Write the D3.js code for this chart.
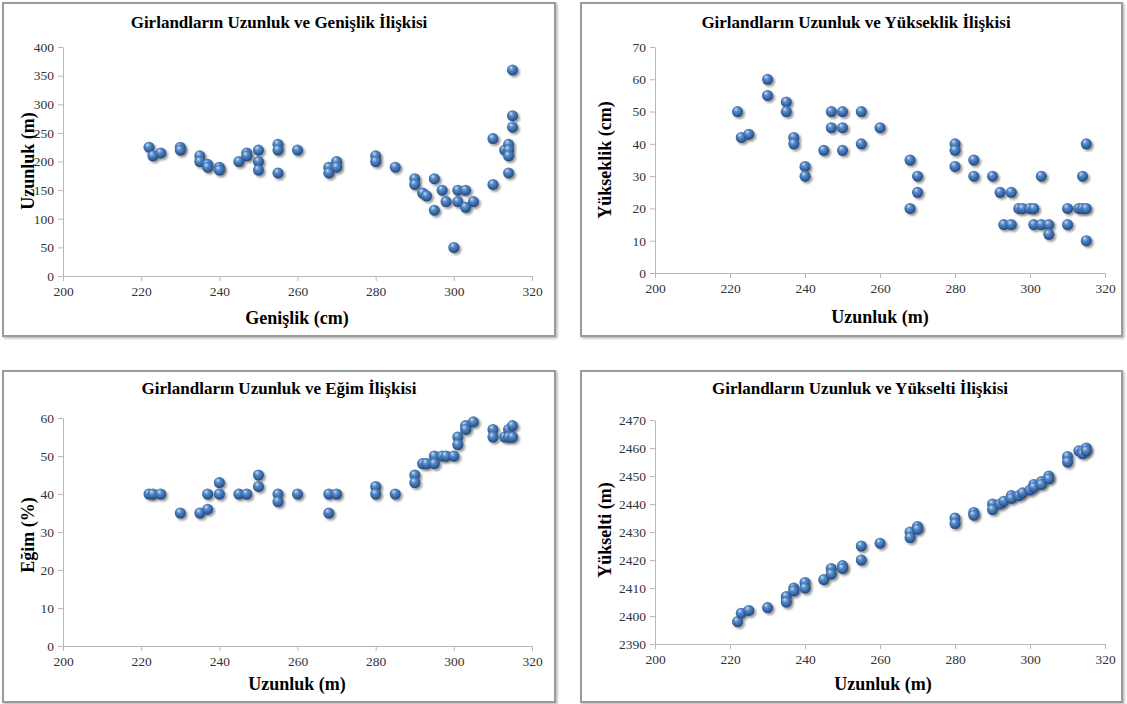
<!DOCTYPE html>
<html><head><meta charset="utf-8">
<script src="https://cdn.jsdelivr.net/npm/d3@7"></script>
<style>
body{margin:0;background:#fff;}
svg{display:block;}
svg text{font-family:"Liberation Serif","Times New Roman",Tinos,"DejaVu Serif",serif !important;}
</style></head>
<body>
<svg id="c" width="1127" height="704"></svg>
<script>
// ---- Data ----
const xTicks = [200,220,240,260,280,300,320];

const genislikX = [222,223,225,230,230,235,235,237,237,240,240,245,247,247,250,250,250,255,255,255,260,268,268,270,270,280,280,285,290,290,292,293,295,295,297,298,300,301,301,303,303,305,310,310,313,314,314,314,314,315,315,315];
const genislikUzunlukY = [225,210,215,225,220,210,200,195,190,190,185,200,215,210,220,200,185,230,220,180,220,190,180,200,190,210,200,190,170,160,145,140,170,115,150,130,50,150,130,150,120,130,240,160,220,230,220,210,180,360,280,260];

const yukseklikX = [222,223,225,230,230,235,235,237,237,240,240,245,247,247,250,250,250,255,255,260,268,268,270,270,280,280,280,285,285,290,292,293,295,295,297,298,300,301,301,303,303,305,305,310,310,313,314,314,315,315,315];
const yukseklikY = [50,42,43,60,55,53,50,42,40,33,30,38,50,45,50,45,38,50,40,45,35,20,30,25,40,38,33,35,30,30,25,15,25,15,20,20,20,20,15,30,15,15,12,20,15,20,30,20,40,20,10];

const egimX = [222,223,225,230,235,237,237,240,240,245,247,250,250,255,255,260,268,268,270,280,280,285,290,290,292,293,295,295,297,298,300,301,301,303,303,305,310,310,313,314,314,315,315];
const egimY = [40,40,40,35,35,40,36,43,40,40,40,45,42,40,38,40,40,35,40,42,40,40,45,43,48,48,50,48,50,50,50,55,53,58,57,59,57,55,55,57,55,58,55];

const yukseltiX = [222,223,225,230,235,235,237,237,240,240,245,247,247,250,250,255,255,260,268,268,270,270,280,280,285,285,290,290,292,293,295,295,297,298,300,301,301,303,303,305,305,310,310,313,314,314,315,315];
const yukseltiY = [2398,2401,2402,2403,2407,2405,2410,2409,2412,2410,2413,2417,2415,2418,2417,2425,2420,2426,2430,2428,2432,2431,2435,2433,2437,2436,2440,2438,2440,2441,2443,2442,2443,2444,2445,2447,2446,2448,2447,2450,2449,2457,2455,2459,2459,2458,2460,2459];

const titles = ["Girlandların  Uzunluk ve Genişlik İlişkisi","Girlandların  Uzunluk ve Yükseklik İlişkisi","Girlandların  Uzunluk ve Eğim İlişkisi","Girlandların  Uzunluk ve Yükselti İlişkisi"];
const xTitles = ["Genişlik (cm)","Uzunluk (m)","Uzunluk (m)","Uzunluk (m)"];
const yTitles = ["Uzunluk (m)","Yükseklik (cm)","Eğim (%)","Yükselti (m)"];
const yTicks0 = [0,50,100,150,200,250,300,350,400];
const yTicks1 = [0,10,20,30,40,50,60,70];
const yTicks2 = [0,10,20,30,40,50,60];
const yTicks3 = [2390,2400,2410,2420,2430,2440,2450,2460,2470];

// ---- Layout ----
const panels = [
  {frame:[3,3,552,333], plot:[63,532,47,276], xs:genislikX, ys:genislikUzunlukY, yt:yTicks0, title:[279,24], xl:[297,324], yl:[30,161]},
  {frame:[581,3,541,333], plot:[655,1105,47,273], xs:yukseklikX, ys:yukseklikY, yt:yTicks1, title:[856,24], xl:[880,323], yl:[607,160]},
  {frame:[3,371,552,331], plot:[63,532,418,646], xs:egimX, ys:egimY, yt:yTicks2, title:[279,390], xl:[297,690], yl:[30,535]},
  {frame:[581,371,541,331], plot:[655,1105,420,644], xs:yukseltiX, ys:yukseltiY, yt:yTicks3, title:[860,390], xl:[883,690], yl:[607,530]}
];

const FONT = "'Liberation Serif','Times New Roman',Tinos,'DejaVu Serif',serif";
const svg = d3.select("#c");
const defs = svg.append("defs");
const grad = defs.append("radialGradient").attr("id","ball").attr("cx","45%").attr("cy","40%").attr("r","60%").attr("fx","35%").attr("fy","28%");
grad.append("stop").attr("offset","0%").attr("stop-color","#cfe0f5");
grad.append("stop").attr("offset","35%").attr("stop-color","#5a8cc8");
grad.append("stop").attr("offset","80%").attr("stop-color","#2f5f9e");
grad.append("stop").attr("offset","100%").attr("stop-color","#1d3f70");
const sh = defs.append("filter").attr("id","sh").attr("x","-50%").attr("y","-50%").attr("width","200%").attr("height","200%");
sh.append("feGaussianBlur").attr("stdDeviation",1.3);
const fsh = defs.append("filter").attr("id","fsh").attr("x","-5%").attr("y","-5%").attr("width","110%").attr("height","110%");
fsh.append("feDropShadow").attr("dx",1.5).attr("dy",1.5).attr("stdDeviation",1).attr("flood-color","#888").attr("flood-opacity",0.6);

panels.forEach((p,i)=>{
  const g = svg.append("g").attr("font-family",FONT);
  const [fx,fy,fw,fh] = p.frame;
  g.append("rect").attr("x",fx).attr("y",fy).attr("width",fw).attr("height",fh)
    .attr("fill","#fff").attr("stroke","#9a9a9a").attr("stroke-width",2).attr("filter","url(#fsh)");
  const [x0,x1,y0,y1] = p.plot;
  const x = d3.scaleLinear().domain([200,320]).range([x0,x1]);
  const y = d3.scaleLinear().domain([p.yt[0],p.yt[p.yt.length-1]]).range([y1,y0]);

  const xa = g.append("g").attr("transform",`translate(0,${y1})`)
    .call(d3.axisBottom(x).tickValues(xTicks).tickFormat(d3.format("d")).tickSize(5).tickPadding(5).tickSizeOuter(0));
  const ya = g.append("g").attr("transform",`translate(${x0},0)`)
    .call(d3.axisLeft(y).tickValues(p.yt).tickFormat(d3.format("d")).tickSize(5).tickPadding(4).tickSizeOuter(0));
  [xa,ya].forEach(a=>{
    a.attr("font-family",FONT);
    a.select(".domain").attr("stroke","#b8b8b8");
    a.selectAll(".tick line").attr("stroke","#b8b8b8");
    a.selectAll(".tick text").attr("fill","#333").style("font-size","13.5px").style("font-family",FONT);
  });

  const pts = p.xs.map((v,k)=>[v,p.ys[k]]);
  g.append("g").selectAll("circle").data(pts).join("circle")
    .attr("cx",d=>x(d[0])+2).attr("cy",d=>y(d[1])+2).attr("r",5.5)
    .attr("fill","#555").attr("opacity",0.6).attr("filter","url(#sh)");
  g.append("g").selectAll("circle").data(pts).join("circle")
    .attr("cx",d=>x(d[0])).attr("cy",d=>y(d[1])).attr("r",5.5)
    .attr("fill","url(#ball)");

  g.append("text").attr("x",p.title[0]).attr("y",p.title[1]).attr("text-anchor","middle")
    .attr("dominant-baseline","middle").style("font-family",FONT).style("font-size","17px").style("font-weight","bold").text(titles[i]);
  g.append("text").attr("x",p.xl[0]).attr("y",p.xl[1]).attr("text-anchor","middle")
    .style("font-family",FONT).style("font-size","18px").style("font-weight","bold").text(xTitles[i]);
  g.append("text").attr("transform",`translate(${p.yl[0]},${p.yl[1]}) rotate(-90)`).attr("text-anchor","middle")
    .attr("dominant-baseline","middle").style("font-family",FONT).style("font-size","18px").style("font-weight","bold").text(yTitles[i]);
});
</script>
</body></html>
